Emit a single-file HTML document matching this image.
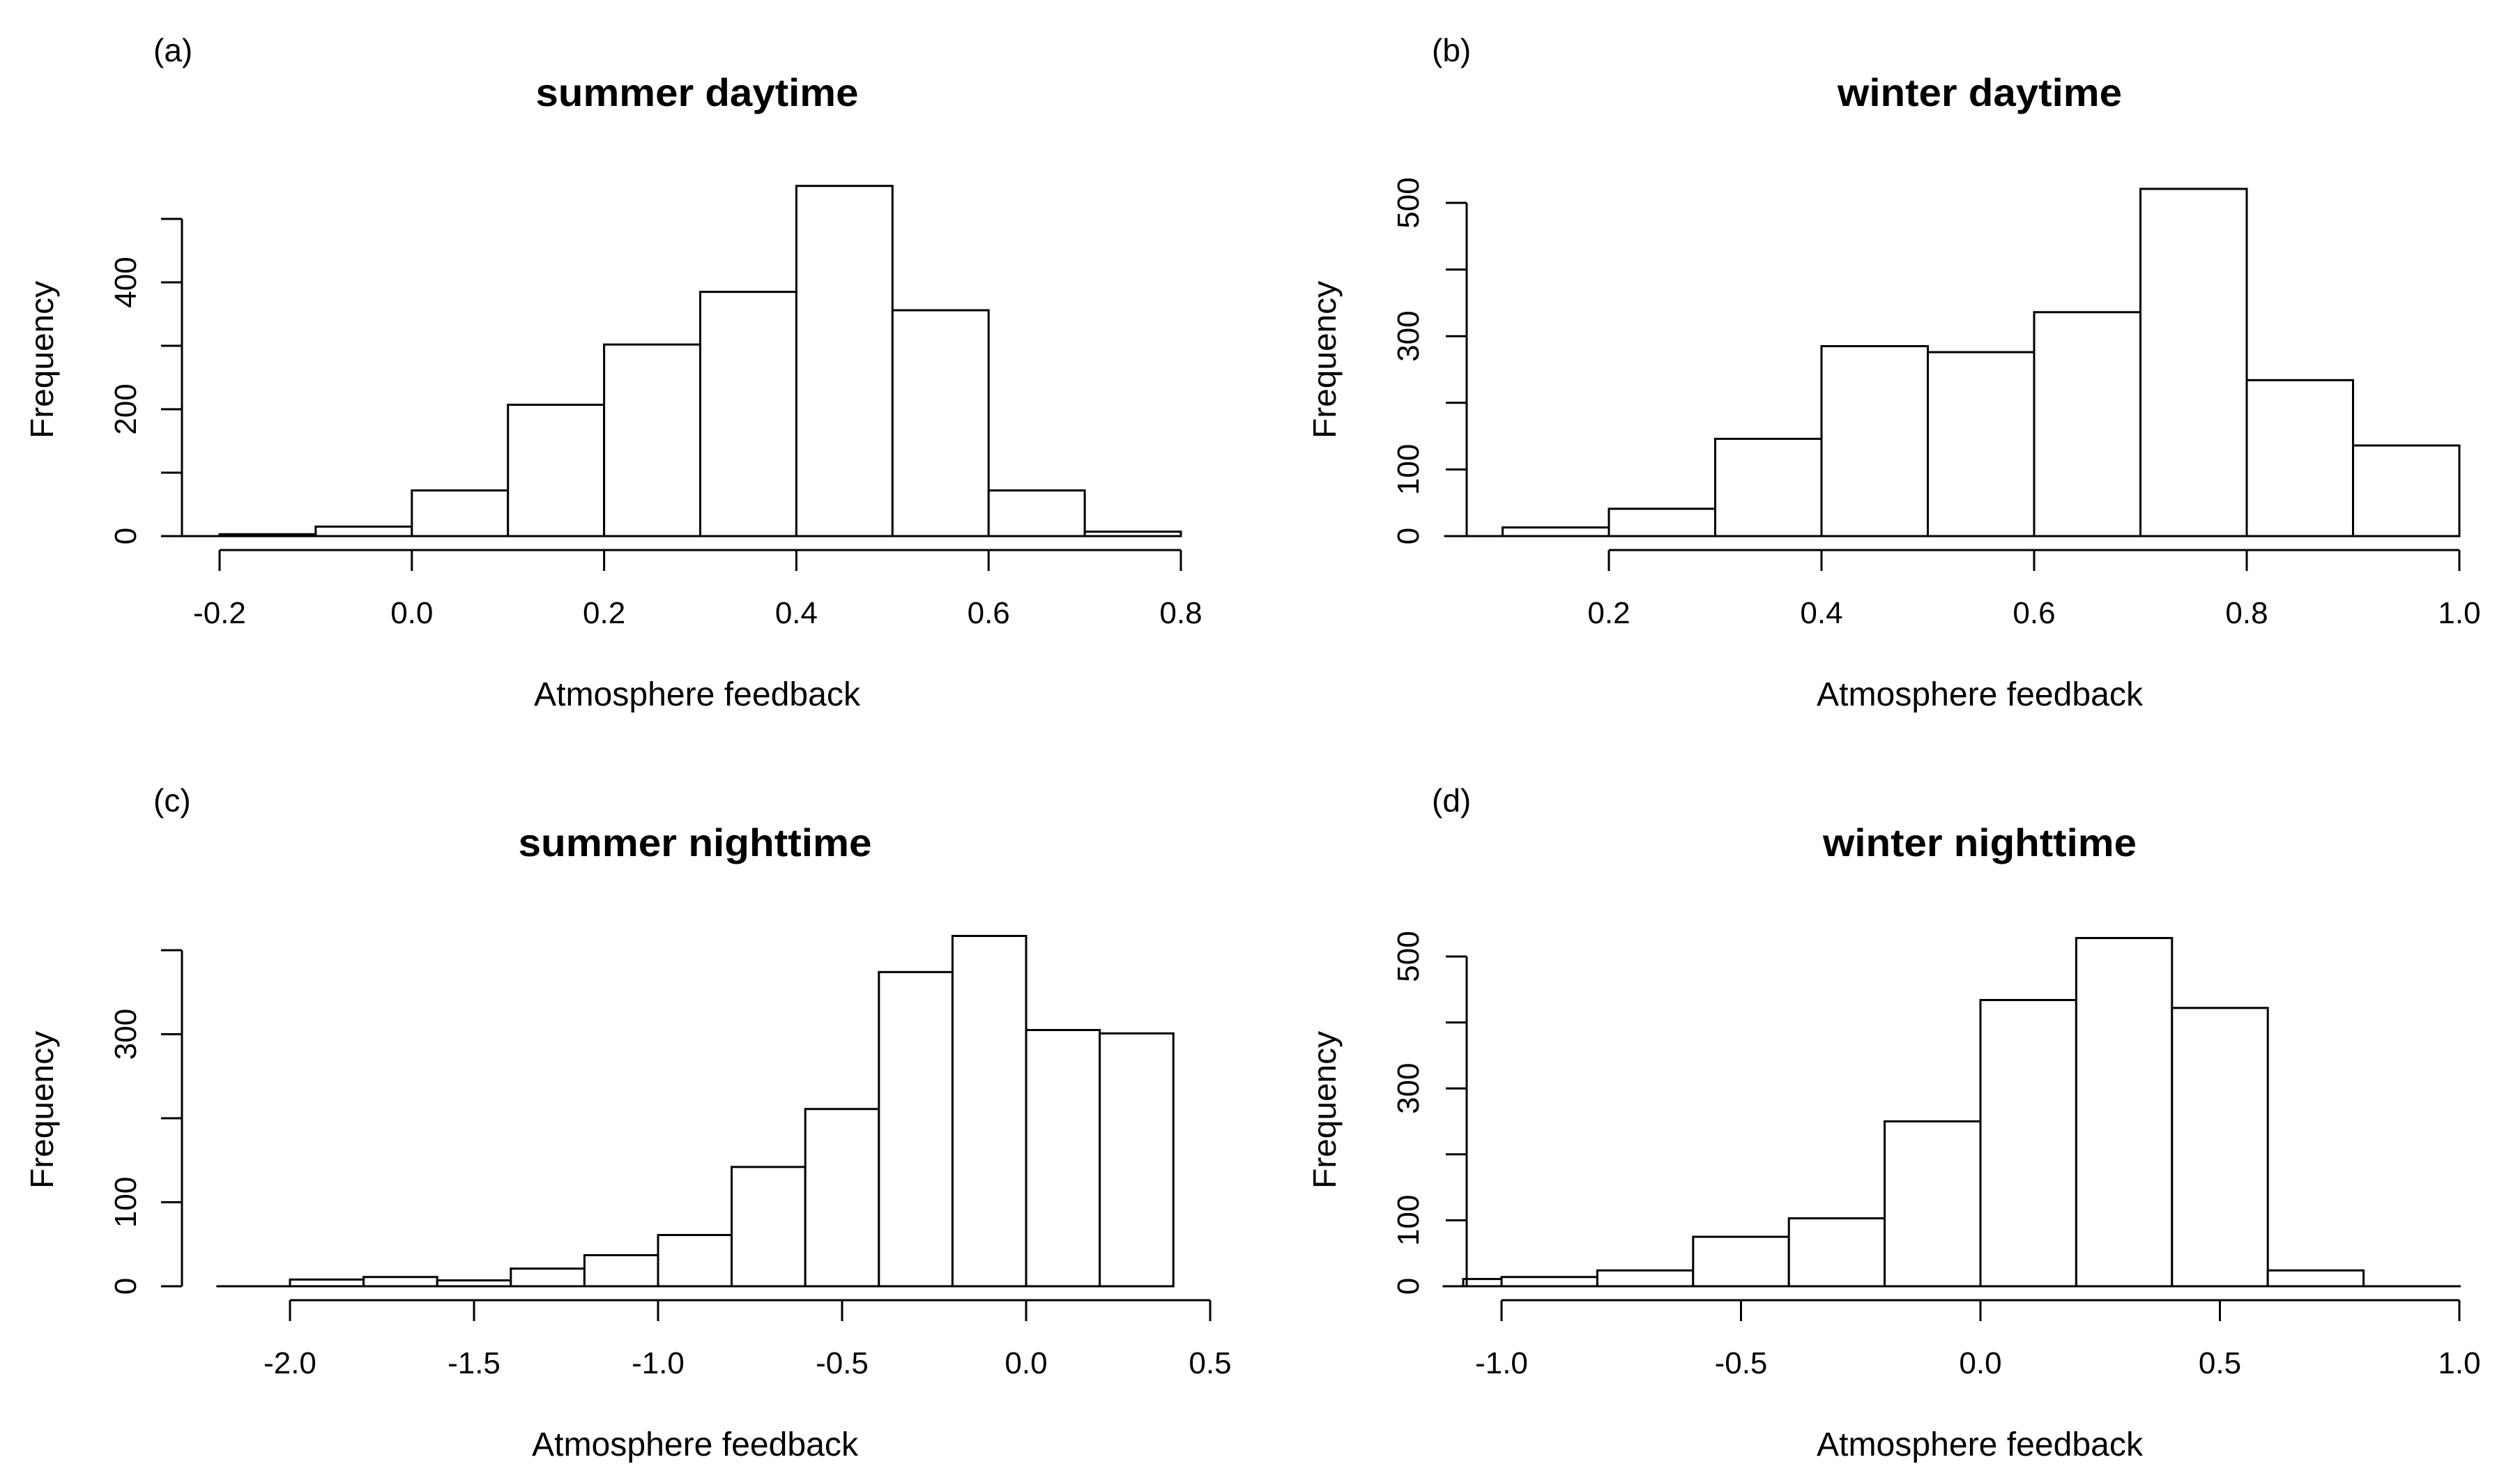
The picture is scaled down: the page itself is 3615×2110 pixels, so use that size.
<!DOCTYPE html>
<html><head><meta charset="utf-8"><style>
html,body{margin:0;padding:0;background:#fff;}
svg{display:block;font-family:"Liberation Sans",Arial,sans-serif;}
</style></head><body>
<svg id="fig" width="3615" height="2110" viewBox="0 0 3615 2110" xmlns="http://www.w3.org/2000/svg"></svg>
<script>
// ---- data ----
const breaksA = [-0.2,-0.1,0.0,0.1,0.2,0.3,0.4,0.5,0.6,0.7,0.8];
const countsA = [3,15,72,207,302,385,552,356,72,7];
const breaksB = [0.1,0.2,0.3,0.4,0.5,0.6,0.7,0.8,0.9,1.0];
const countsB = [13,41,146,285,276,336,521,234,136];
const breaksC = [-2.2,-2.0,-1.8,-1.6,-1.4,-1.2,-1.0,-0.8,-0.6,-0.4,-0.2,0.0,0.2,0.4];
const countsC = [0,8,11,7,21,37,61,142,211,374,417,305,301];
const breaksD = [-1.08,-1.0,-0.8,-0.6,-0.4,-0.2,0.0,0.2,0.4,0.6,0.8];
const countsD = [11,14,24,75,103,250,434,528,422,24];
const xTicksA = [-0.2,0.0,0.2,0.4,0.6,0.8];
const xTickLabelsA = ["-0.2","0.0","0.2","0.4","0.6","0.8"];
const xTicksB = [0.2,0.4,0.6,0.8,1.0];
const xTickLabelsB = ["0.2","0.4","0.6","0.8","1.0"];
const xTicksC = [-2.0,-1.5,-1.0,-0.5,0.0,0.5];
const xTickLabelsC = ["-2.0","-1.5","-1.0","-0.5","0.0","0.5"];
const xTicksD = [-1.0,-0.5,0.0,0.5,1.0];
const xTickLabelsD = ["-1.0","-0.5","0.0","0.5","1.0"];
const yTicksA = [0,100,200,300,400,500];
const yLabelsA = ["0","","200","","400",""];
const yTicksB = [0,100,200,300,400,500];
const yLabelsB = ["0","100","","300","","500"];
const yTicksC = [0,100,200,300,400];
const yLabelsC = ["0","100","","300",""];
const yTicksD = [0,100,200,300,400,500];
const yLabelsD = ["0","100","","300","","500"];

const NS="http://www.w3.org/2000/svg";
const svg=document.getElementById('fig');
function mk(tag,attrs,parent){const e=document.createElementNS(NS,tag);for(const k in attrs)e.setAttribute(k,attrs[k]);(parent||svg).appendChild(e);return e;}

const panels=[
 {id:'a',label:'(a)',title:'summer daytime',tl:463,breaks:breaksA,counts:countsA,xt:xTicksA,xl:xTickLabelsA,yt:yTicksA,yl:yLabelsA,
  x0v:-0.2,x0p:315,x1v:0.8,x1p:1694,y0p:769,ymaxv:500,ymaxp:314,axisX:261,base:[-0.26,0.8],top:0,lx:220,ylabX:60,ytlX:179,cx:1000},
 {id:'b',label:'(b)',title:'winter daytime',tl:408,breaks:breaksB,counts:countsB,xt:xTicksB,xl:xTickLabelsB,yt:yTicksB,yl:yLabelsB,
  x0v:0.2,x0p:2308,x1v:1.0,x1p:3528,y0p:769,ymaxv:500,ymaxp:291,axisX:2104,base:[0.045,1.0],top:0,lx:2054,ylabX:1900,ytlX:2019,cx:2840},
 {id:'c',label:'(c)',title:'summer nighttime',tl:507,breaks:breaksC,counts:countsC,xt:xTicksC,xl:xTickLabelsC,yt:yTicksC,yl:yLabelsC,
  x0v:-2.0,x0p:416,x1v:0.5,x1p:1736,y0p:1845,ymaxv:400,ymaxp:1363,axisX:261,base:[-2.2,0.4],top:1076,lx:220,ylabX:60,ytlX:179,cx:997},
 {id:'d',label:'(d)',title:'winter nighttime',tl:450,breaks:breaksD,counts:countsD,xt:xTicksD,xl:xTickLabelsD,yt:yTicksD,yl:yLabelsD,
  x0v:-1.0,x0p:2154,x1v:1.0,x1p:3528,y0p:1845,ymaxv:500,ymaxp:1372,axisX:2104,base:[-1.123,1.003],top:1076,lx:2054,ylabX:1900,ytlX:2019,cx:2840}
];

panels.forEach(p=>{
  const g=mk('g',{});
  
  
  const X=v=>p.x0p+(v-p.x0v)*(p.x1p-p.x0p)/(p.x1v-p.x0v);
  const Y=v=>p.y0p-v*(p.y0p-p.ymaxp)/p.ymaxv;
  const T=p.top;
  const pl=mk('text',{x:p.lx,y:T+88,'font-size':46,fill:'#000'},g);pl.textContent=p.label;
  
  
  const ti=mk('text',{x:p.cx,y:T+152,'font-size':56,'font-weight':'bold','text-anchor':'middle',textLength:p.tl,lengthAdjust:'spacingAndGlyphs',fill:'#000'},g);ti.textContent=p.title;
  
  
  const bl=mk('line',{x1:X(p.base[0]),x2:X(p.base[1]),y1:p.y0p,y2:p.y0p,stroke:'#000','stroke-width':3},g);
  
  
  p.counts.forEach((c,i)=>{
    const x1=X(p.breaks[i]),x2=X(p.breaks[i+1]);
    const r=mk('rect',{x:x1,y:Y(c),width:x2-x1,height:p.y0p-Y(c),fill:'#fff',stroke:'#000','stroke-width':3},g);
    
    
  });
  const axY=p.y0p+20, tkY=p.y0p+50;
  const xa=mk('line',{x1:X(p.xt[0]),x2:X(p.xt[p.xt.length-1]),y1:axY,y2:axY,stroke:'#000','stroke-width':3},g);
  
  
  p.xt.forEach((v,i)=>{
    const t=mk('line',{x1:X(v),x2:X(v),y1:axY,y2:tkY,stroke:'#000','stroke-width':3},g);
    
    
    const tl=mk('text',{x:X(v),y:p.y0p+125,'font-size':44,'text-anchor':'middle',fill:'#000'},g);tl.textContent=p.xl[i];
    
    
  });
  const ya=mk('line',{x1:p.axisX,x2:p.axisX,y1:Y(p.yt[0]),y2:Y(p.yt[p.yt.length-1]),stroke:'#000','stroke-width':3},g);
  
  
  p.yt.forEach((v,i)=>{
    const t=mk('line',{x1:p.axisX-30,x2:p.axisX,y1:Y(v),y2:Y(v),stroke:'#000','stroke-width':3},g);
    
    
    if(p.yl[i]){
      const tl=mk('text',{x:0,y:0,'font-size':44,'text-anchor':'middle',transform:`translate(${p.ytlX+16},${Y(v)}) rotate(-90)`,fill:'#000'},g);tl.textContent=p.yl[i];
      
      
    }
  });
  const yl=mk('text',{x:0,y:0,'font-size':46,'text-anchor':'middle',textLength:226,lengthAdjust:'spacingAndGlyphs',transform:`translate(${p.ylabX+16},${T+516}) rotate(-90)`,fill:'#000'},g);yl.textContent='Frequency';
  
  
  const xl=mk('text',{x:p.cx,y:T+1012,'font-size':48,'text-anchor':'middle',textLength:468,lengthAdjust:'spacingAndGlyphs',fill:'#000'},g);xl.textContent='Atmosphere feedback';
  
  
});
</script>
</body></html>
